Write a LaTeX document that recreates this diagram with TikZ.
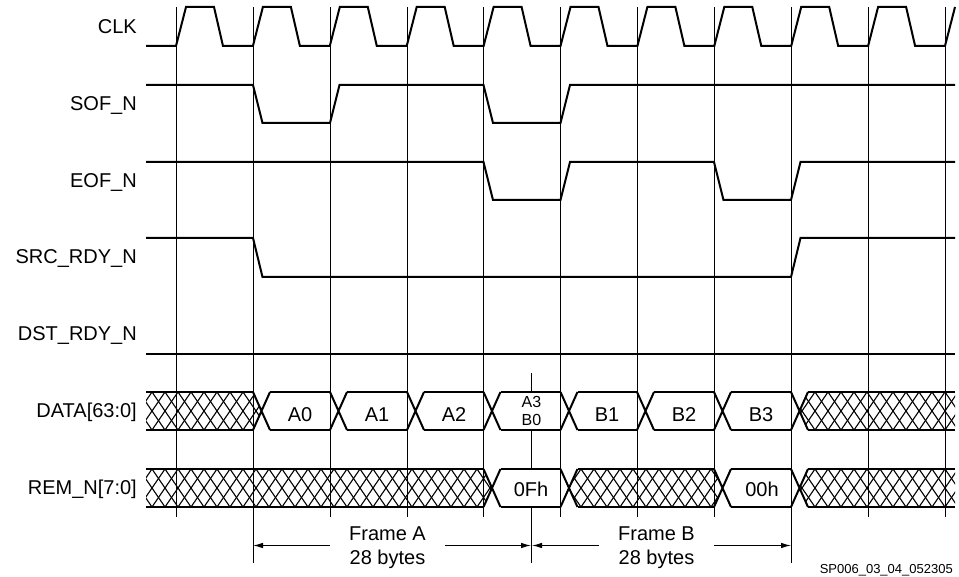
\documentclass[tikz,border=0pt]{standalone}
\usepackage{fontspec}
\setmainfont{Liberation Sans}
\usetikzlibrary{arrows.meta}
\tikzset{
  sig/.style={line width=2pt, line join=miter},
  gridln/.style={line width=0.9pt},
  hatchln/.style={line width=1.1pt},
  lbl/.style={anchor=base east, inner sep=0pt, font=\fontsize{20}{24}\selectfont},
  val/.style={anchor=base, inner sep=0pt, font=\fontsize{20}{24}\selectfont},
  smallval/.style={anchor=base, inner sep=0pt, font=\fontsize{16}{19}\selectfont},
  tagtxt/.style={anchor=base east, inner sep=0pt, font=\fontsize{13}{15}\selectfont},
  dimln/.style={line width=1pt, -{Latex[length=10pt,width=5.5pt]}}
}
\newcommand\myhatch[1]{%
  \foreach \i in {0,...,70}{%
    \draw[hatchln] ({100+\i*13},#1) -- ++(26,38);
    \draw[hatchln] ({100+\i*13},#1+38) -- ++(26,-38);
  }%
}
\begin{document}
\begin{tikzpicture}[x=1pt,y=-1pt]
\useasboundingbox (0,0) rectangle (959,577);
\fill[white] (0,0) rectangle (959,577);

% grid lines
\foreach \x in {176,330,407,483.5,560.5,637,714,868,945}
  \draw[gridln] (\x,7) -- (\x,517);
\foreach \x in {253,791}
  \draw[gridln] (\x,7) -- (\x,563);
% marker line at A3/B0
\coordinate (m1) at (531.5,373);
\coordinate (m2) at (531.5,392);
\coordinate (m3) at (531.5,430);
\coordinate (m4) at (531.5,469);
\coordinate (m5) at (531.5,507);
\coordinate (m6) at (531.5,563);
\draw[gridln] (m1) -- (m2);
\draw[gridln] (m3) -- (m4);
\draw[gridln] (m5) -- (m6);

% labels
\node[lbl] (lclk) at (137,33.3) {CLK};
\node[lbl] (lsof) at (137,110.5) {SOF\_N};
\node[lbl] (leof) at (137,187.5) {EOF\_N};
\node[lbl] (lsrc) at (137,264) {SRC\_RDY\_N};
\node[lbl] (ldst) at (137,341) {DST\_RDY\_N};
\node[lbl] (ldata) at (137,417.5) {DATA[63:0]};
\node[lbl] (lrem) at (137,494.5) {REM\_N[7:0]};

% CLK
\draw[sig] (146,46) -- (176,46)
  \foreach \k in {0,...,9} {
    -- (176+76.9*\k+10,7) -- (176+76.9*\k+38,7) -- (176+76.9*\k+47,46) -- (176+76.9*\k+76.9,46)
  } -- (955,7);

% SOF_N
\draw[sig] (146,85) -- (253,85) -- (262.5,123) -- (330,123) -- (339.5,85) -- (483.5,85)
  -- (493,123) -- (560.5,123) -- (570,85) -- (955,85);
% EOF_N
\draw[sig] (146,162) -- (483.5,162) -- (493,200) -- (560.5,200) -- (570,162) -- (714,162)
  -- (723.5,200) -- (791,200) -- (800.5,162) -- (955,162);
% SRC_RDY_N
\draw[sig] (146,238) -- (253,238) -- (262.5,277) -- (791,277) -- (800.5,238) -- (955,238);
% DST_RDY_N
\draw[sig] (146,354) -- (955,354);

% DATA bus hatch
\begin{scope}
  \clip (146,392) -- (253,392) -- (261.5,411) -- (253,430) -- (146,430) -- cycle;
  \myhatch{392}
\end{scope}
\begin{scope}
  \clip (955,392) -- (808,392) -- (799.5,411) -- (808,430) -- (955,430) -- cycle;
  \myhatch{392}
\end{scope}
% DATA outline
\draw[sig] (146,392) -- (253,392) (270,392) -- (330,392) (347,392) -- (407,392)
  (424,392) -- (483.5,392) (500.5,392) -- (560.5,392) (577.5,392) -- (637,392)
  (654,392) -- (714,392) (731,392) -- (791,392) (808,392) -- (955,392);
\draw[sig] (146,430) -- (253,430) (270,430) -- (330,430) (347,430) -- (407,430)
  (424,430) -- (483.5,430) (500.5,430) -- (560.5,430) (577.5,430) -- (637,430)
  (654,430) -- (714,430) (731,430) -- (791,430) (808,430) -- (955,430);
\foreach \x in {253,330,407,483.5,560.5,637,714,791}
  \draw[sig] (\x,392) -- ++(17,38) (\x,430) -- ++(17,-38);

% REM bus hatch
\begin{scope}
  \clip (146,469) -- (483.5,469) -- (492,488) -- (483.5,507) -- (146,507) -- cycle;
  \myhatch{469}
\end{scope}
\begin{scope}
  \clip (569,488) -- (577.5,469) -- (714,469) -- (722.5,488) -- (714,507) -- (577.5,507) -- cycle;
  \myhatch{469}
\end{scope}
\begin{scope}
  \clip (955,469) -- (808,469) -- (799.5,488) -- (808,507) -- (955,507) -- cycle;
  \myhatch{469}
\end{scope}
% REM outline
\draw[sig] (146,469) -- (483.5,469) (500.5,469) -- (560.5,469) (577.5,469) -- (714,469)
  (731,469) -- (791,469) (808,469) -- (955,469);
\draw[sig] (146,507) -- (483.5,507) (500.5,507) -- (560.5,507) (577.5,507) -- (714,507)
  (731,507) -- (791,507) (808,507) -- (955,507);
\foreach \x in {483.5,560.5,714,791}
  \draw[sig] (\x,469) -- ++(17,38) (\x,507) -- ++(17,-38);

% bus values
\node[val] (a0) at (300,421.5) {A0};
\node[val] (a1) at (377,421.5) {A1};
\node[val] (a2) at (454,421.5) {A2};
\node[smallval] (a3) at (531.5,407.3) {A3};
\node[smallval] (b0) at (531.5,425) {B0};
\node[val] (b1) at (607,421.5) {B1};
\node[val] (b2) at (684,421.5) {B2};
\node[val] (b3) at (761,421.5) {B3};
\node[val] (r0f) at (531,496.5) {0Fh};
\node[val] (r00) at (762,496.5) {00h};

% frame annotations
\node[val] (fa) at (387.5,540.7) {Frame A};
\node[val] (fab) at (387.5,564.5) {28 bytes};
\node[val] (fb) at (656.5,540.7) {Frame B};
\node[val] (fbb) at (656.5,564.5) {28 bytes};
\coordinate (fal) at (330,545.5);
\coordinate (falt) at (253,545.5);
\coordinate (far) at (445,545.5);
\coordinate (fart) at (531,545.5);
\coordinate (fbl) at (598.5,545.5);
\coordinate (fblt) at (532,545.5);
\coordinate (fbr) at (714,545.5);
\coordinate (fbrt) at (791,545.5);
\draw[dimln] (fal) -- (falt);
\draw[dimln] (far) -- (fart);
\draw[dimln] (fbl) -- (fblt);
\draw[dimln] (fbr) -- (fbrt);

\node[tagtxt] (tag) at (953,573) {SP006\_03\_04\_052305};
\end{tikzpicture}
\end{document}
